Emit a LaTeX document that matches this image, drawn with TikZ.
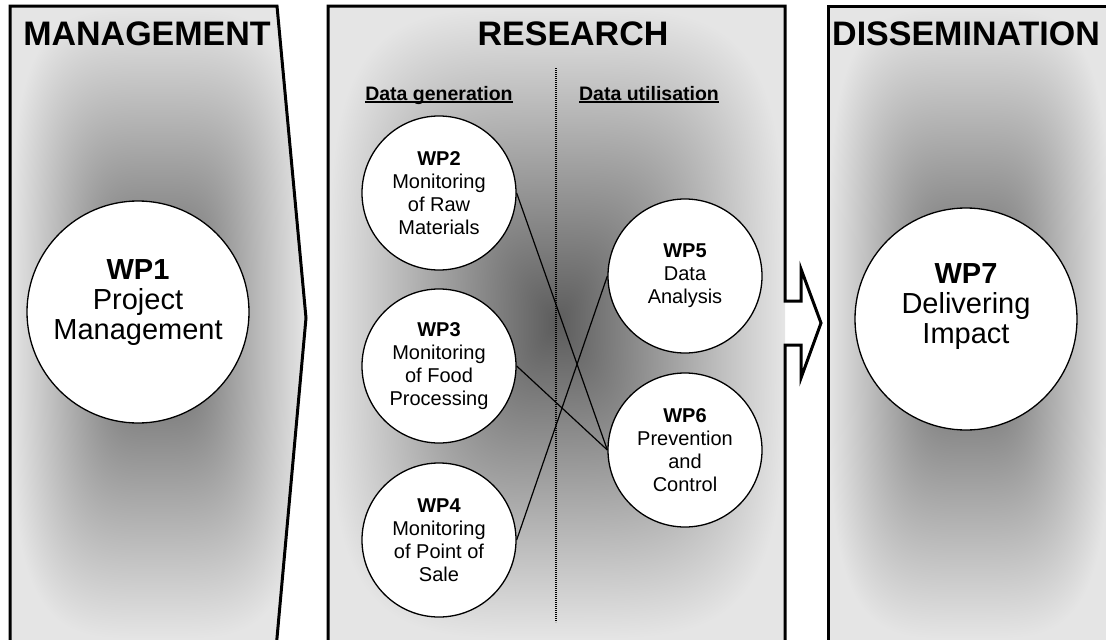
\documentclass[tikz,border=0pt]{standalone}
\usepackage{fontspec}
\setmainfont{Liberation Sans}
\pgfdeclarefunctionalshading{panelshade}{\pgfpoint{-50bp}{-50bp}}{\pgfpoint{50bp}{50bp}}{}{%
  25 div dup mul dup mul exch 25 div dup mul dup mul add sqrt sqrt
  dup 1 gt {pop 1} if
  0.54 mul 0.36 add dup dup
}
\newcommand\myul[1]{\setbox0=\hbox{#1}\rlap{\rule[-2.6pt]{\wd0}{1.7pt}}\box0}
\begin{document}
\begin{tikzpicture}[x=1pt,y=-1pt,
  panel/.style={line width=3pt, line join=miter},
  wpbig/.style={circle, draw, line width=1.3pt, fill=white, minimum size=222pt, inner sep=0pt, align=center, text depth=24pt, font=\fontsize{29}{30}\selectfont},
  wpsmall/.style={circle, draw, line width=1.3pt, fill=white, minimum size=154pt, inner sep=0pt, align=center, font=\fontsize{20}{23}\selectfont},
  header/.style={font=\fontsize{34}{36}\selectfont\bfseries, anchor=base, inner sep=0pt},
  sublabel/.style={font=\fontsize{19.5}{21}\selectfont\bfseries, anchor=base, inner sep=0pt},
  conn/.style={line width=1.2pt},
  divider/.style={line width=2.6pt, dash pattern=on 1.3pt off 0.7pt}]
\useasboundingbox (0,0) rectangle (1106,640);
% panel fills
\shade[shading=panelshade] (10,6) -- (277,6) -- (306,318) -- (277,640) -- (10,640) -- cycle;
\shade[shading=panelshade] (328,6) rectangle (785,640);
\shade[shading=panelshade] (828,6) rectangle (1110,640);
% panel outlines
\draw[panel] (10,660) -- (10,6) -- (277,6) -- (306,318) -- (275,660);
\draw[panel] (328,660) -- (328,6) -- (785,6) -- (785,301) -- (801,301) -- (801,269) -- (821,323) -- (801,378) -- (801,345) -- (785,345) -- (785,660);
\draw[panel] (828,660) -- (828,6) -- (1120,6);
% headers
\node[header] (hm) at (147,45) {MANAGEMENT};
\node[header] (hr) at (573,45) {RESEARCH};
\node[header] (hd) at (966,45) {DISSEMINATION};
\node[sublabel] (dg) at (439,100) {\myul{Data generation}};
\node[sublabel] (du) at (649,100) {\myul{Data utilisation}};
% divider
\coordinate (dtop) at (556,68);
\coordinate (dbot) at (556,622);
\draw[divider] (dtop) -- (dbot);
% work packages
\node[wpbig] (wp1) at (138,312) {\textbf{WP1}\\Project\\Management};
\node[wpbig, text depth=30pt] (wp7) at (966,319) {\textbf{WP7}\\Delivering\\Impact};
\node[wpsmall] (wp2) at (439,193) {\textbf{WP2}\\Monitoring\\of Raw\\Materials};
\node[wpsmall] (wp3) at (439,366) {\textbf{WP3}\\Monitoring\\of Food\\Processing};
\node[wpsmall] (wp4) at (439,540) {\textbf{WP4}\\Monitoring\\of Point of\\Sale};
\node[wpsmall] (wp5) at (685,276) {\textbf{WP5}\\Data\\Analysis};
\node[wpsmall] (wp6) at (685,450) {\textbf{WP6}\\Prevention\\and\\Control};
% connectors
\draw[conn] (wp2.east) -- (wp6.west);
\draw[conn] (wp3.east) -- (wp6.west);
\draw[conn] (wp4.east) -- (wp5.west);
\end{tikzpicture}
\end{document}
